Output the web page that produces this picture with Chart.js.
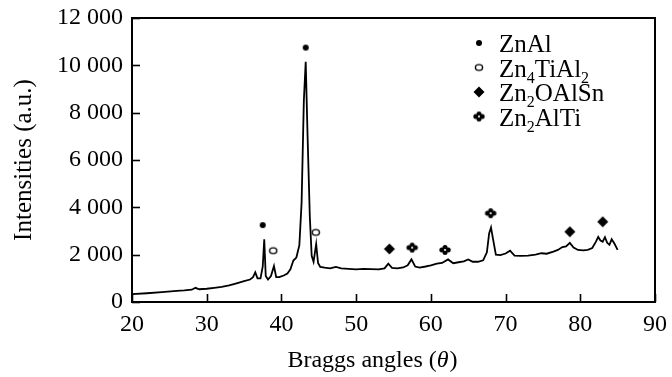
<!DOCTYPE html>
<html lang="en">
<head>
    <meta charset="UTF-8">
    <title>XRD pattern</title>
    <script src="https://cdn.jsdelivr.net/npm/chart.js"></script>
    <style>
        html, body { margin: 0; padding: 0; background: #fff; }
        #chartBox { width: 672px; height: 377px; }
    </style>
</head>
<body>
    <div id="chartBox"><canvas id="xrdChart"></canvas></div>
    <script>
        // diffraction trace
        var angles = [20, 22, 24, 26, 27, 28, 28.5, 29, 30, 31, 32, 33, 34, 35, 35.8, 36.2, 36.5, 36.8, 37.2, 37.5,
            37.7, 37.9, 38.2, 38.6, 39.0, 39.3, 39.7, 40.3, 40.8, 41.2, 41.6, 42.0, 42.4, 42.7, 43.0, 43.25, 43.5,
            43.8, 44.05, 44.3, 44.65, 44.9, 45.2, 45.8, 46.5, 47.3, 48, 49, 50, 51, 52, 53, 53.8, 54.3, 54.8, 55.5,
            56.3, 56.9, 57.4, 57.9, 58.5, 59.3, 60, 60.8, 61.5, 62.3, 63, 63.7, 64.4, 65, 65.6, 66.3, 67, 67.5,
            67.8, 68.05, 68.3, 68.7, 69.3, 70, 70.6, 71.2, 72, 73, 74, 74.8, 75.5, 76.4, 77, 77.6, 78.1, 78.6,
            79.1, 79.7, 80.4, 81, 81.6, 82.1, 82.4, 82.7, 83.0, 83.3, 83.6, 83.9, 84.2, 84.6, 85.0];
        var intensities = [330, 370, 420, 470, 490, 520, 600, 540, 560, 600, 640, 700, 790, 880, 950, 1050, 1250, 1000, 1000, 1500,
            2650, 1100, 950, 1100, 1520, 1050, 1050, 1120, 1200, 1380, 1750, 1880, 2400, 4200, 8500, 10150, 7000,
            3600, 1950, 1700, 2450, 1650, 1480, 1450, 1420, 1480, 1420, 1400, 1380, 1400, 1390, 1380, 1420, 1620, 1440, 1420,
            1460, 1550, 1800, 1500, 1450, 1500, 1550, 1620, 1650, 1800, 1640, 1680, 1720, 1800, 1700, 1700, 1760, 2100,
            2900, 3150, 2700, 2000, 1980, 2050, 2170, 1960, 1950, 1960, 2000, 2060, 2040, 2130, 2200, 2320, 2350, 2500,
            2300, 2200, 2180, 2200, 2280, 2550, 2750, 2600, 2550, 2740, 2500, 2420, 2650, 2450, 2200];

        // phase markers
        var znAlX = [37.5, 43.25];
        var znAlY = [3250, 10750];
        var zn4TiAl2X = [38.9, 44.6];
        var zn4TiAl2Y = [2170, 2940];
        var zn2OAlSnX = [54.45, 78.6, 83.0];
        var zn2OAlSnY = [2240, 2970, 3390];
        var zn2AlTiX = [57.5, 61.9, 68.0];
        var zn2AlTiY = [2300, 2200, 3750];

        // legend names: [base, sub, base, sub ...]
        var phaseNames = [
            ["ZnAl"],
            ["Zn", "4", "TiAl", "2"],
            ["Zn", "2", "OAlSn"],
            ["Zn", "2", "AlTi"]
        ];

        var xTicks = [20, 30, 40, 50, 60, 70, 80, 90];
        var yTicks = [0, 2000, 4000, 6000, 8000, 10000, 12000];

        var serif = "'Liberation Serif', 'Times New Roman', serif";

        function toPoints(xs, ys) {
            var pts = [];
            for (var i = 0; i < xs.length; i++) pts.push({ x: xs[i], y: ys[i] });
            return pts;
        }

        function makeSymbol(kind) {
            var c = document.createElement("canvas");
            c.width = 14; c.height = 12;
            var g = c.getContext("2d");
            g.fillStyle = "#000"; g.strokeStyle = "#000";
            if (kind === "dot") {
                g.beginPath(); g.arc(7, 6, 3, 0, Math.PI * 2); g.fill();
            } else if (kind === "ring") {
                g.lineWidth = 1.4;
                g.beginPath(); g.ellipse(7, 6, 3.6, 2.9, 0, 0, Math.PI * 2); g.stroke();
            } else if (kind === "diamond") {
                g.beginPath(); g.moveTo(7, 0.5); g.lineTo(12.5, 6); g.lineTo(7, 11.5); g.lineTo(1.5, 6); g.closePath(); g.fill();
            } else {
                var offs = [[-3.2, 0], [3.2, 0], [0, -2.6], [0, 2.6]];
                for (var k = 0; k < offs.length; k++) {
                    g.beginPath(); g.arc(7 + offs[k][0], 6 + offs[k][1], 2.5, 0, Math.PI * 2); g.fill();
                }
                g.fillStyle = "#fff";
                g.beginPath(); g.arc(7, 6, 1.1, 0, Math.PI * 2); g.fill();
            }
            return c;
        }

        var symbols = [makeSymbol("dot"), makeSymbol("ring"), makeSymbol("diamond"), makeSymbol("quatrefoil")];

        function fmt(v) {
            return String(v).replace(/\B(?=(\d{3})+(?!\d))/g, " ");
        }

        // frame + inward tick marks + x title + legend with subscripts
        var framePlugin = {
            id: "frame",
            afterDraw: function(chart) {
                var ctx = chart.ctx, a = chart.chartArea;
                var xs = chart.scales.x, ys = chart.scales.y;
                ctx.save();
                ctx.strokeStyle = "#000";
                ctx.lineWidth = 1.6;
                xTicks.forEach(function(t) {
                    var px = Math.round(xs.getPixelForValue(t)) + 0.5;
                    ctx.beginPath(); ctx.moveTo(px, a.bottom); ctx.lineTo(px, a.bottom - 8); ctx.stroke();
                });
                yTicks.forEach(function(t) {
                    var py = Math.round(ys.getPixelForValue(t)) + 0.5;
                    ctx.beginPath(); ctx.moveTo(a.left, py); ctx.lineTo(a.left + 8, py); ctx.stroke();
                });
                ctx.lineWidth = 2;
                ctx.strokeRect(a.left, a.top, a.right - a.left, a.bottom - a.top);

                // x title with italic theta
                ctx.fillStyle = "#000";
                ctx.textBaseline = "alphabetic";
                var p1 = "Braggs angles (", p2 = "θ", p3 = ")";
                ctx.font = "24px " + serif;
                var w1 = ctx.measureText(p1).width, w3 = ctx.measureText(p3).width;
                ctx.font = "italic 24px " + serif;
                var w2 = ctx.measureText(p2).width;
                var tx0 = 372 - (w1 + w2 + w3) / 2, ty = 367;
                ctx.font = "24px " + serif;
                ctx.fillText(p1, tx0, ty);
                ctx.font = "italic 24px " + serif;
                ctx.fillText(p2, tx0 + w1, ty);
                ctx.font = "24px " + serif;
                ctx.fillText(p3, tx0 + w1 + w2 + 1, ty);

                var lx = a.left + 347, ly = a.top + 34;
                for (var i = 0; i < phaseNames.length; i++) {
                    var y = ly + i * 24.5;
                    ctx.drawImage(symbols[i], lx - 7, y - 15);
                    var tx = lx + 20;
                    var parts = phaseNames[i];
                    for (var j = 0; j < parts.length; j++) {
                        var sub = j % 2 === 1;
                        ctx.font = (sub ? "16px " : "25px ") + serif;
                        ctx.fillText(parts[j], tx, sub ? y + 6 : y);
                        tx += ctx.measureText(parts[j]).width;
                    }
                }
                ctx.restore();
            }
        };

        var ctx = document.getElementById("xrdChart").getContext("2d");
        var xrdChart = new Chart(ctx, {
            type: "line",
            data: {
                datasets: [{
                    data: toPoints(angles, intensities),
                    borderColor: "#000",
                    borderWidth: 1.8,
                    pointRadius: 0,
                    tension: 0,
                    fill: false
                }, {
                    data: toPoints(znAlX, znAlY), showLine: false, pointStyle: symbols[0]
                }, {
                    data: toPoints(zn4TiAl2X, zn4TiAl2Y), showLine: false, pointStyle: symbols[1]
                }, {
                    data: toPoints(zn2OAlSnX, zn2OAlSnY), showLine: false, pointStyle: symbols[2]
                }, {
                    data: toPoints(zn2AlTiX, zn2AlTiY), showLine: false, pointStyle: symbols[3]
                }]
            },
            options: {
                responsive: true,
                maintainAspectRatio: false,
                animation: false,
                layout: { padding: { left: 0, right: 17, top: 18, bottom: 0 } },
                plugins: {
                    legend: { display: false },
                    tooltip: { enabled: false }
                },
                scales: {
                    x: {
                        type: "linear",
                        min: 20, max: 90,
                        afterBuildTicks: function(s) { s.ticks = xTicks.map(function(v) { return { value: v }; }); },
                        afterFit: function(s) { s.height = 75; s.paddingLeft = 0; s.paddingRight = 0; },
                        grid: { display: false, drawTicks: false },
                        border: { display: false },
                        ticks: { padding: 8, color: "#000", font: { family: serif, size: 24 } }
                    },
                    y: {
                        min: 0, max: 12000,
                        afterBuildTicks: function(s) { s.ticks = yTicks.map(function(v) { return { value: v }; }); },
                        afterFit: function(s) { s.width = 132; s.paddingTop = 0; s.paddingBottom = 0; },
                        grid: { display: false, drawTicks: false },
                        border: { display: false },
                        ticks: { padding: 9, color: "#000", font: { family: serif, size: 24 }, callback: function(v) { return fmt(v); } },
                        title: { display: true, text: "Intensities (a.u.)", color: "#000", padding: { top: 9, bottom: 0 }, font: { family: serif, size: 25 } }
                    }
                }
            },
            plugins: [framePlugin]
        });
    </script>
</body>
</html>
